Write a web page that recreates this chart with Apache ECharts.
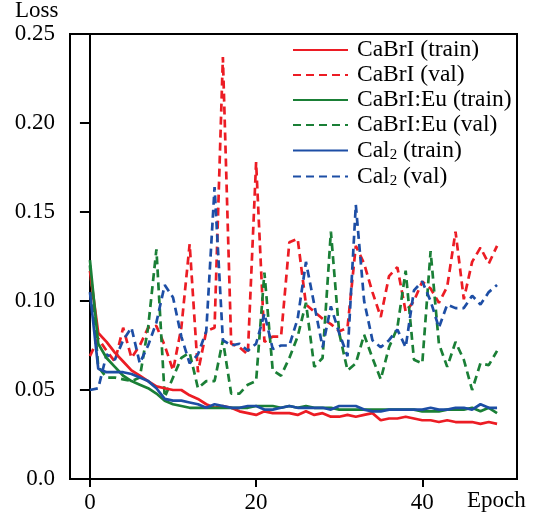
<!DOCTYPE html>
<html><head><meta charset="utf-8">
<script src="https://cdn.jsdelivr.net/npm/echarts@6/dist/echarts.min.js"></script>
<style>html,body{margin:0;padding:0;background:#fff}#c{width:544px;height:520px}</style>
</head><body><div id="c"></div>
<script>
const epochs = Array.from({length: 50}, (_, i) => i);
const cabriTrain = [0.117,0.082,0.077,0.071,0.066,0.061,0.058,0.055,0.052,0.051,0.050,0.050,0.047,0.045,0.042,0.040,0.041,0.040,0.038,0.037,0.036,0.038,0.037,0.037,0.037,0.036,0.038,0.036,0.037,0.035,0.035,0.036,0.035,0.036,0.037,0.033,0.034,0.034,0.035,0.034,0.033,0.033,0.032,0.033,0.032,0.032,0.032,0.031,0.032,0.031];
const cabriVal = [0.069,0.079,0.072,0.066,0.085,0.068,0.075,0.085,0.086,0.075,0.061,0.085,0.132,0.060,0.083,0.085,0.237,0.076,0.074,0.070,0.178,0.077,0.080,0.080,0.133,0.135,0.098,0.094,0.090,0.087,0.083,0.085,0.131,0.121,0.105,0.091,0.114,0.119,0.094,0.100,0.111,0.107,0.099,0.108,0.139,0.101,0.122,0.130,0.121,0.131];
const euTrain = [0.123,0.076,0.068,0.063,0.058,0.055,0.053,0.051,0.048,0.044,0.042,0.041,0.040,0.040,0.040,0.040,0.040,0.040,0.040,0.040,0.041,0.041,0.041,0.040,0.041,0.040,0.041,0.040,0.040,0.040,0.039,0.039,0.039,0.039,0.039,0.039,0.039,0.039,0.039,0.039,0.038,0.038,0.038,0.039,0.039,0.039,0.040,0.038,0.040,0.037];
const euVal = [0.120,0.063,0.057,0.057,0.056,0.055,0.057,0.085,0.129,0.046,0.057,0.068,0.071,0.051,0.055,0.055,0.078,0.048,0.048,0.053,0.055,0.116,0.061,0.058,0.068,0.080,0.099,0.063,0.068,0.139,0.082,0.061,0.065,0.081,0.068,0.056,0.074,0.085,0.117,0.067,0.065,0.128,0.076,0.063,0.077,0.067,0.050,0.065,0.064,0.072];
const caiTrain = [0.105,0.062,0.060,0.060,0.060,0.059,0.057,0.055,0.051,0.045,0.044,0.044,0.043,0.042,0.040,0.042,0.041,0.040,0.040,0.041,0.041,0.039,0.039,0.040,0.041,0.040,0.040,0.040,0.040,0.039,0.041,0.041,0.041,0.039,0.038,0.038,0.039,0.039,0.039,0.039,0.039,0.040,0.039,0.039,0.040,0.040,0.039,0.042,0.040,0.040];
const caiVal = [0.050,0.051,0.070,0.067,0.078,0.085,0.065,0.075,0.088,0.109,0.102,0.080,0.065,0.070,0.083,0.164,0.078,0.075,0.076,0.072,0.076,0.093,0.073,0.075,0.075,0.090,0.122,0.098,0.074,0.097,0.082,0.069,0.154,0.100,0.078,0.074,0.078,0.084,0.074,0.106,0.111,0.100,0.085,0.098,0.096,0.096,0.103,0.098,0.105,0.109];
const seriesNames = ['CaBrI (train)','CaBrI (val)','CaBrI:Eu (train)','CaBrI:Eu (val)','Cal2 (train)','Cal2 (val)'];
const yTickLabels = ['0.0','0.05','0.10','0.15','0.20','0.25'];
const xTicks = [0, 20, 40];

const RED = '#ec1c24', GREEN = '#1a7f36', BLUE = '#1d4ea5';
const FONT = '"Liberation Serif", "DejaVu Serif", serif';
const allData = [cabriTrain, cabriVal, euTrain, euVal, caiTrain, caiVal];
const colors = [RED, RED, GREEN, GREEN, BLUE, BLUE];
const chart = echarts.init(document.getElementById('c'), null, {renderer: 'canvas'});
const series = allData.map((vals, k) => ({
  name: seriesNames[k],
  type: 'line',
  data: epochs.map((e, i) => [e, vals[i]]),
  showSymbol: false,
  symbol: 'none',
  animation: false,
  color: colors[k],
  lineStyle: {color: colors[k], width: 2.7, type: k % 2 === 1 ? [8, 5] : 'solid'},
  z: k % 2 === 1 ? 2 : 3
}));
chart.setOption({
  animation: false,
  backgroundColor: '#fff',
  grid: {left: 70, top: 34, right: 27, bottom: 41, show: true, borderColor: '#000', borderWidth: 2, containLabel: false},
  legend: {
    orient: 'vertical', left: 292, top: 38, padding: 0, itemWidth: 55, itemHeight: 14, itemGap: 1,
    data: seriesNames,
    itemStyle: {opacity: 0},
    textStyle: {fontFamily: FONT, fontSize: 23.5, color: '#000', lineHeight: 20, padding: [0, 0, 0, 4],
      rich: {s: {fontFamily: FONT, fontSize: 15, color: '#000', lineHeight: 25, verticalAlign: 'bottom'},
             t: {fontFamily: FONT, fontSize: 23.5, color: '#000', lineHeight: 20}}},
    formatter: n => n.indexOf('Cal2') === 0 ? '{t|Cal}{s|2}{t|' + n.slice(4) + '}' : n
  },
  graphic: [
    {type: 'text', left: 15, top: -1, style: {text: 'Loss', font: '23px ' + FONT, fill: '#000'}},
    {type: 'text', left: 467, top: 489, style: {text: 'Epoch', font: '23px ' + FONT, fill: '#000'}}
  ],
  xAxis: {
    type: 'value', min: -2.4, max: 51.4,
    axisLine: {onZero: false, lineStyle: {color: '#000', width: 2}},
    axisTick: {show: true, length: 8, lineStyle: {color: '#000', width: 2}, customValues: xTicks},
    axisLabel: {customValues: xTicks, color: '#000', fontFamily: FONT, fontSize: 23, margin: 12},
    splitLine: {show: false}
  },
  yAxis: {
    type: 'value', min: 0, max: 0.25, interval: 0.05,
    axisLine: {show: true, lineStyle: {color: '#000', width: 2}},
    axisTick: {show: true, length: 10, lineStyle: {color: '#000', width: 2}},
    axisLabel: {color: '#000', fontFamily: FONT, fontSize: 23, margin: 15,
      formatter: (v) => yTickLabels[Math.round(v / 0.05)]},
    splitLine: {show: false}
  },
  series: series
});
</script></body></html>
